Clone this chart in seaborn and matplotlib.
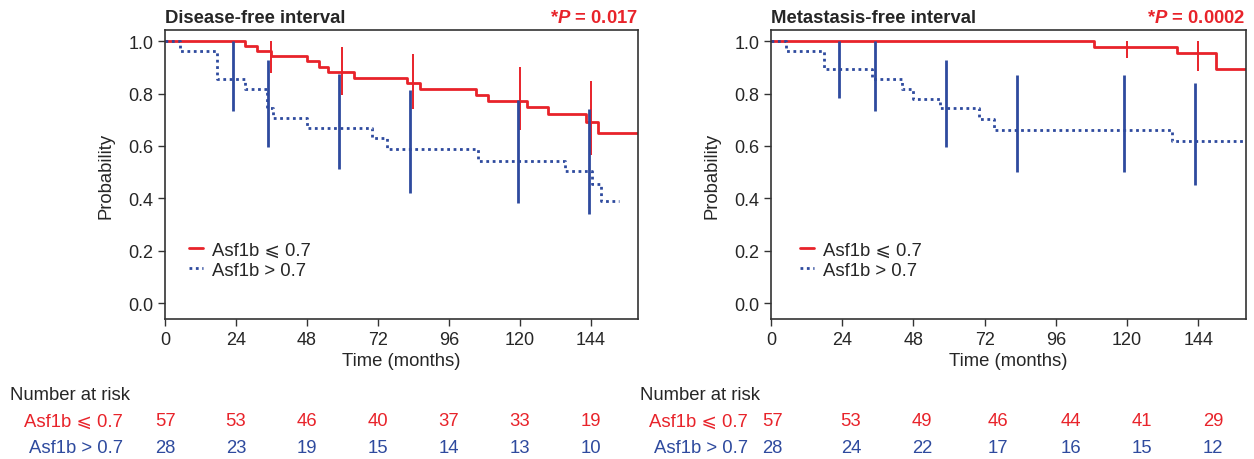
import numpy as np
import pandas as pd
import matplotlib
matplotlib.use("Agg")
import matplotlib.pyplot as plt
import matplotlib.transforms as mtransforms
import seaborn as sns

# Kaplan-Meier kurvor
dfi_low_t = [0, 27, 31, 36, 48, 52, 55, 64, 82, 86.4, 105.3, 109.3, 122.3, 129.4, 142.4, 146.6, 160]
dfi_low_s = [1.0, 0.982, 0.963, 0.944, 0.924, 0.903, 0.883, 0.86, 0.839, 0.816, 0.795, 0.773, 0.749, 0.723, 0.693, 0.649, 0.649]
dfi_high_t = [0, 5, 17.7, 27, 34.5, 36.5, 48, 70, 75, 106, 135.3, 144.4, 147.5, 153.4]
dfi_high_s = [1.0, 0.964, 0.855, 0.818, 0.744, 0.707, 0.669, 0.630, 0.588, 0.543, 0.503, 0.453, 0.388, 0.388]

mfi_low_t = [0, 109, 137, 150, 160]
mfi_low_s = [1.0, 0.979, 0.953, 0.893, 0.893]
mfi_high_t = [0, 5, 18, 34, 44, 48, 57, 70, 75, 135, 160]
mfi_high_s = [1.0, 0.964, 0.892, 0.855, 0.817, 0.780, 0.743, 0.702, 0.662, 0.617, 0.617]

# Konfidensintervall (vertikala streck)
dfi_low_ci_t = [24, 36, 60, 84, 120, 144]
dfi_low_ci_lo = [1.0, 0.88, 0.794, 0.740, 0.662, 0.565]
dfi_low_ci_hi = [1.0, 0.999, 0.979, 0.950, 0.903, 0.846]
dfi_high_ci_t = [23, 35, 59, 83, 119.3, 143.5]
dfi_high_ci_lo = [0.734, 0.597, 0.511, 0.422, 0.382, 0.340]
dfi_high_ci_hi = [1.0, 0.929, 0.874, 0.813, 0.777, 0.740]

mfi_low_ci_t = [24, 36, 60, 84, 120, 144]
mfi_low_ci_lo = [1.0, 1.0, 1.0, 1.0, 0.934, 0.887]
mfi_low_ci_hi = [1.0, 1.0, 1.0, 1.0, 1.0, 1.0]
mfi_high_ci_t = [23, 35, 59, 83, 119, 143]
mfi_high_ci_lo = [0.781, 0.732, 0.594, 0.499, 0.499, 0.452]
mfi_high_ci_hi = [1.0, 1.0, 0.927, 0.871, 0.871, 0.840]

# Number at risk
dfi_risk_low = [57, 53, 46, 40, 37, 33, 19]
dfi_risk_high = [28, 23, 19, 15, 14, 13, 10]
mfi_risk_low = [57, 53, 49, 46, 44, 41, 29]
mfi_risk_high = [28, 24, 22, 17, 16, 15, 12]

titles = ["Disease-free interval", "Metastasis-free interval"]
pvalues = ["0.017", "0.0002"]
label_low = "Asf1b \u2a7d 0.7"
label_high = "Asf1b > 0.7"
xticks = [0, 24, 48, 72, 96, 120, 144]

RED = "#e8232a"
BLUE = "#2e4a9e"
FS = 13.3

sns.set_style("ticks")
plt.rcParams["font.family"] = ["Liberation Sans", "DejaVu Sans"]
plt.rcParams["mathtext.fontset"] = "custom"
plt.rcParams["mathtext.it"] = "Liberation Sans:italic:bold"
plt.rcParams["mathtext.rm"] = "Liberation Sans:bold"

fig = plt.figure(figsize=(12.54, 4.6), dpi=100)
ax1 = fig.add_axes([0.1316, 0.3043, 0.3772, 0.628])
ax2 = fig.add_axes([0.6148, 0.3043, 0.3786, 0.628])

panels = [
    (ax1, dfi_low_t, dfi_low_s, dfi_high_t, dfi_high_s,
     (dfi_low_ci_t, dfi_low_ci_lo, dfi_low_ci_hi), (dfi_high_ci_t, dfi_high_ci_lo, dfi_high_ci_hi),
     dfi_risk_low, dfi_risk_high, xticks, 0.098, 0.051),
    (ax2, mfi_low_t, mfi_low_s, mfi_high_t, mfi_high_s,
     (mfi_low_ci_t, mfi_low_ci_lo, mfi_low_ci_hi), (mfi_high_ci_t, mfi_high_ci_lo, mfi_high_ci_hi),
     mfi_risk_low, mfi_risk_high, [0.5, 27, 51, 76.4, 101, 125, 149], 0.5965, 0.061),
]

for i, (ax, lt, ls, ht, hs, lci, hci, rlow, rhigh, rx, lab_x, leg_x) in enumerate(panels):
    df = pd.concat([
        pd.DataFrame({"time": lt, "surv": ls, "group": label_low}),
        pd.DataFrame({"time": ht, "surv": hs, "group": label_high}),
    ])
    sns.lineplot(data=df[df.group == label_low], x="time", y="surv", ax=ax,
                 drawstyle="steps-post", color=RED, lw=2.0, estimator=None, label=label_low)
    sns.lineplot(data=df[df.group == label_high], x="time", y="surv", ax=ax,
                 drawstyle="steps-post", color=BLUE, lw=2.0, ls=(0, (1, 1.3)), estimator=None, label=label_high)
    ax.vlines(lci[0], lci[1], lci[2], color=RED, lw=1.4)
    ax.vlines(hci[0], hci[1], hci[2], color=BLUE, lw=2.0)

    ax.set_xlim(0, 160)
    ax.set_ylim(-0.061, 1.042)
    ax.set_xticks(xticks)
    ax.set_yticks([0, 0.2, 0.4, 0.6, 0.8, 1.0])
    ax.set_yticklabels(["0.0", "0.2", "0.4", "0.6", "0.8", "1.0"])
    ax.tick_params(labelsize=13, length=5, width=1, color="#333333")
    ax.set_xlabel("Time (months)", fontsize=FS, labelpad=3)
    ax.set_ylabel("Probability", fontsize=FS, labelpad=10)
    for sp in ax.spines.values():
        sp.set_color("#333333")
        sp.set_linewidth(1.2)
    ax.set_title(titles[i], loc="left", fontsize=FS, fontweight="bold", pad=6)
    ax.set_title("*$\\mathit{P}$ = " + pvalues[i], loc="right", fontsize=FS,
                 fontweight="bold", color=RED, pad=6)
    ax.legend(loc="lower left", bbox_to_anchor=(leg_x, 0.14), frameon=False, borderpad=0,
              borderaxespad=0, fontsize=FS, handlelength=0.75, handletextpad=0.5, labelspacing=0.15)

    # risktabell
    tr = mtransforms.blended_transform_factory(ax.transData, fig.transFigure)
    fig.text(lab_x - 0.09 + (0.0 if i == 0 else 0.004), 0.141, "Number at risk", fontsize=FS, va="center")
    fig.text(lab_x, 0.083, label_low, fontsize=FS, color=RED, ha="right", va="center")
    fig.text(lab_x, 0.026, label_high, fontsize=FS, color=BLUE, ha="right", va="center")
    for x, a, b in zip(rx, rlow, rhigh):
        ax.text(x, 0.083, str(a), transform=tr, ha="center", va="center", fontsize=FS, color=RED)
        ax.text(x, 0.026, str(b), transform=tr, ha="center", va="center", fontsize=FS, color=BLUE)

fig.savefig("out.png", dpi=100)
